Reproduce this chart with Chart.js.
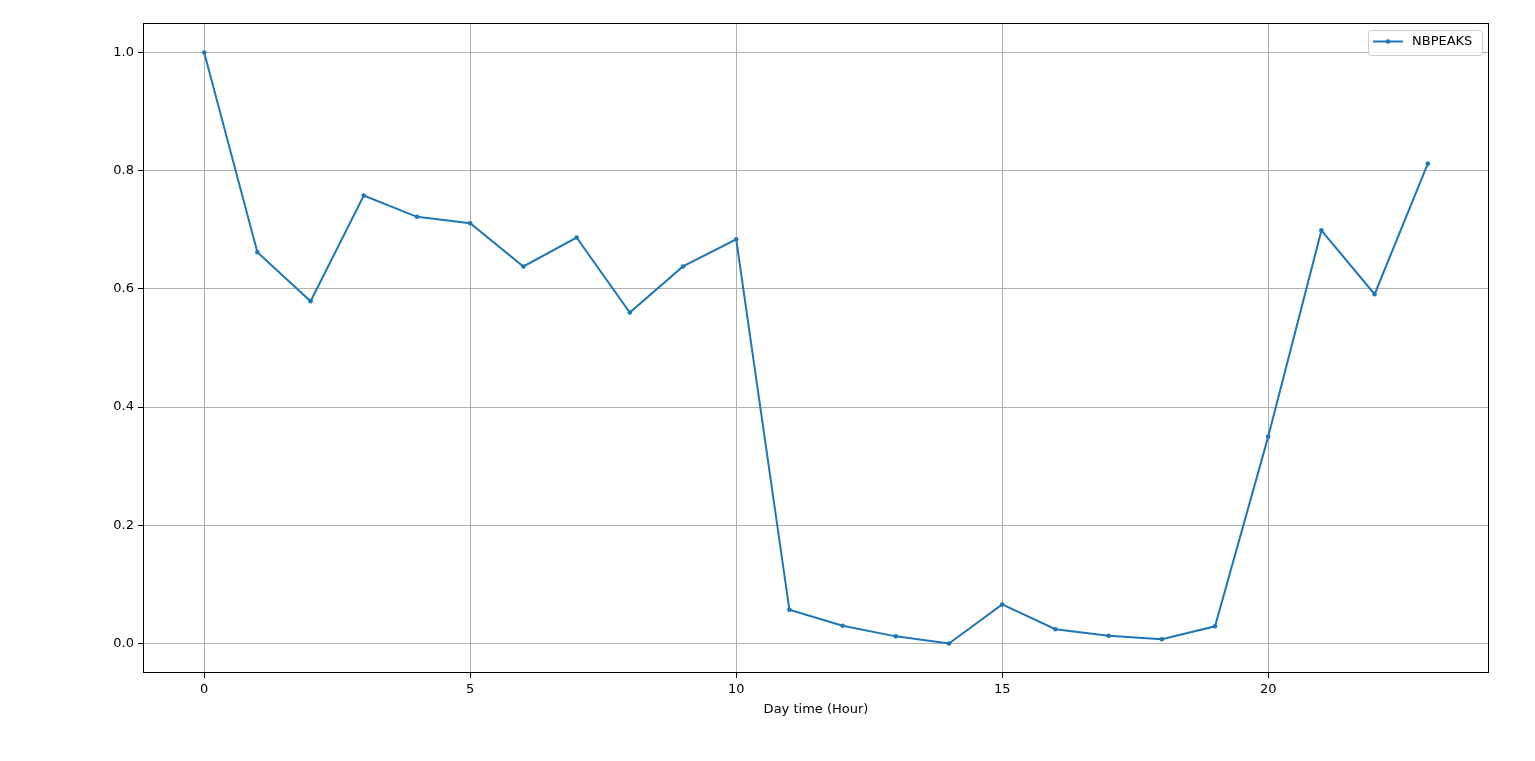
<!DOCTYPE html>
<html>
<head>
<meta charset="utf-8">
<script src="https://cdn.jsdelivr.net/npm/chart.js@4/dist/chart.umd.min.js"></script>
<style>
  html, body { margin: 0; padding: 0; background: #fff; }
  #wrap { width: 1535px; height: 761px; }
</style>
</head>
<body>
<div id="wrap"><canvas id="peaksChart" width="1535" height="761"></canvas></div>
<script>
// --- Data ---
const hours = [0, 1, 2, 3, 4, 5, 6, 7, 8, 9, 10, 11, 12, 13, 14, 15, 16, 17, 18, 19, 20, 21, 22, 23];
const nbPeaks = [1.0, 0.662, 0.579, 0.758, 0.722, 0.711, 0.638, 0.687, 0.560, 0.638, 0.684,
                 0.057, 0.030, 0.012, 0.0, 0.066, 0.024, 0.013, 0.007, 0.029, 0.350, 0.699, 0.591, 0.812];
const xTicks = [0, 5, 10, 15, 20];
const yTicks = [0.0, 0.2, 0.4, 0.6, 0.8, 1.0];
const seriesLabel = 'NBPEAKS';
const xTitle = 'Day time (Hour)';

const BLUE = '#1f77b4';
const FONT = { family: 'DejaVu Sans', size: 13 };

// --- Frame around the plot + legend inside the top-right corner ---
const framePlugin = {
    id: 'frame',
    afterDraw(chart) {
        const { ctx, chartArea: a } = chart;
        ctx.save();
        ctx.strokeStyle = '#000';
        ctx.lineWidth = 1;
        ctx.strokeRect(a.left + 0.5, a.top + 0.5, a.right - a.left - 1, a.bottom - a.top - 1);

        // legend box
        const w = 114, h = 25;
        const x = a.right - 7 - w, y = a.top + 7;
        ctx.fillStyle = 'rgba(255,255,255,0.8)';
        ctx.strokeStyle = '#cccccc';
        ctx.beginPath();
        ctx.roundRect(x + 0.5, y + 0.5, w, h, 3);
        ctx.fill();
        ctx.stroke();

        ctx.strokeStyle = BLUE;
        ctx.lineWidth = 2;
        ctx.beginPath();
        ctx.moveTo(x + 5, y + 11.5);
        ctx.lineTo(x + 35, y + 11.5);
        ctx.stroke();
        ctx.fillStyle = BLUE;
        ctx.beginPath();
        ctx.arc(x + 20, y + 11.5, 2.3, 0, Math.PI * 2);
        ctx.fill();

        ctx.fillStyle = '#000';
        ctx.font = '13px "DejaVu Sans"';
        ctx.textBaseline = 'middle';
        ctx.fillText(seriesLabel, x + 44, y + 12);
        ctx.restore();
    }
};

const ctx = document.getElementById('peaksChart').getContext('2d');

new Chart(ctx, {
    type: 'line',
    data: {
        datasets: [{
            label: seriesLabel,
            data: hours.map((h, i) => ({ x: h, y: nbPeaks[i] })),
            borderColor: BLUE,
            backgroundColor: BLUE,
            borderWidth: 2,
            pointRadius: 2.3,
            pointBorderWidth: 0,
            pointBackgroundColor: BLUE,
            fill: false,
            tension: 0
        }]
    },
    options: {
        responsive: false,
        animation: false,
        layout: { padding: { top: 23, right: 46, left: 1, bottom: 40 } },
        plugins: {
            legend: { display: false },
            tooltip: { enabled: false }
        },
        scales: {
            x: {
                type: 'linear',
                min: -1.15,
                max: 24.15,
                afterBuildTicks: s => { s.ticks = xTicks.map(v => ({ value: v })); },
                afterFit: s => { s.height = 48; },
                ticks: { color: '#000', font: FONT, padding: 4, maxRotation: 0 },
                grid: { color: '#b0b0b0', lineWidth: 1, tickColor: '#000', tickLength: 5 },
                border: { display: false },
                title: { display: true, text: xTitle, color: '#000', font: FONT, padding: { top: 6 } }
            },
            y: {
                min: -0.05,
                max: 1.05,
                afterBuildTicks: s => { s.ticks = yTicks.map(v => ({ value: v })); },
                afterFit: s => { s.width = 142; },
                ticks: { color: '#000', font: FONT, padding: 4, callback: v => v.toFixed(1) },
                grid: { color: '#b0b0b0', lineWidth: 1, tickColor: '#000', tickLength: 5 },
                border: { display: false }
            }
        }
    },
    plugins: [framePlugin]
});
</script>
</body>
</html>
